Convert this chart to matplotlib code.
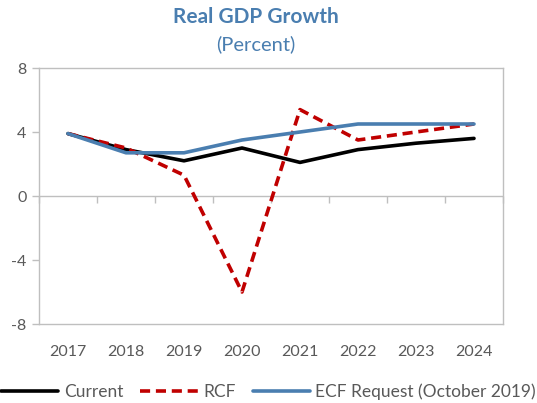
import matplotlib
matplotlib.use("Agg")
import matplotlib.pyplot as plt
import numpy as np

years = ["2017", "2018", "2019", "2020", "2021", "2022", "2023", "2024"]
current = [3.9, 2.9, 2.2, 3.0, 2.1, 2.9, 3.3, 3.6]
rcf = [3.9, 3.0, 1.3, -6.0, 5.4, 3.5, 4.0, 4.5]
ecf = [3.9, 2.7, 2.7, 3.5, 4.0, 4.5, 4.5, 4.5]
yticks = [-8, -4, 0, 4, 8]

FONT = ["Lato", "DejaVu Sans"]
GRAY = "#BFBFBF"
TXT = "#595959"
BLUE = "#4A7EB0"
RED = "#C00000"

plt.rcParams["font.family"] = FONT

fig = plt.figure(figsize=(5.37, 4.03), dpi=100)
ax = fig.add_axes([39/537, 1-324/403, 464/537, 256/403])

x = np.arange(len(years))
ax.plot(x, current, color="black", lw=2.6, label="Current", solid_capstyle="round", zorder=3)
ax.plot(x, rcf, color=RED, lw=2.6, ls=(0, (2.8, 1.6)), label="RCF", zorder=4)
ax.plot(x, ecf, color=BLUE, lw=2.6, label="ECF Request (October 2019)", solid_capstyle="round", zorder=5)

ax.set_xlim(-0.5, len(years) - 0.5)
ax.set_ylim(-8, 8)
ax.set_yticks(yticks)
ax.set_yticklabels([str(v) for v in yticks])
ax.set_xticks(x)
ax.set_xticklabels(years)
ax.tick_params(axis="x", length=0, pad=15, labelsize=11.5, labelcolor=TXT)
ax.tick_params(axis="y", length=5, width=1, color=GRAY, labelsize=11.5, labelcolor=TXT, pad=4)
for s in ax.spines.values():
    s.set_color(GRAY)
    s.set_linewidth(1)

# zero axis with category-boundary ticks
ax.axhline(0, color=GRAY, lw=1, zorder=1)
sec = ax.secondary_xaxis(0.5)
sec.set_xticks(np.arange(len(years) + 1) - 0.5)
sec.tick_params(direction="in", length=5, width=1, color=GRAY, labelbottom=False, labeltop=False)
for s in sec.spines.values():
    s.set_visible(False)

fig.text(256/537, 1-17/403, "Real GDP Growth", ha="center", va="center",
         fontsize=15, fontweight="bold", color=BLUE)
fig.text(256/537, 1-44/403, "(Percent)", ha="center", va="center",
         fontsize=14.5, color=BLUE)

leg = fig.legend(loc="center", bbox_to_anchor=(0.5, 1-392/403), ncol=3,
                 frameon=False, fontsize=12.5, handlelength=3.3, columnspacing=1.0,
                 handletextpad=0.3, labelcolor=TXT, borderaxespad=0, borderpad=0)

fig.savefig("out.png", dpi=100)
